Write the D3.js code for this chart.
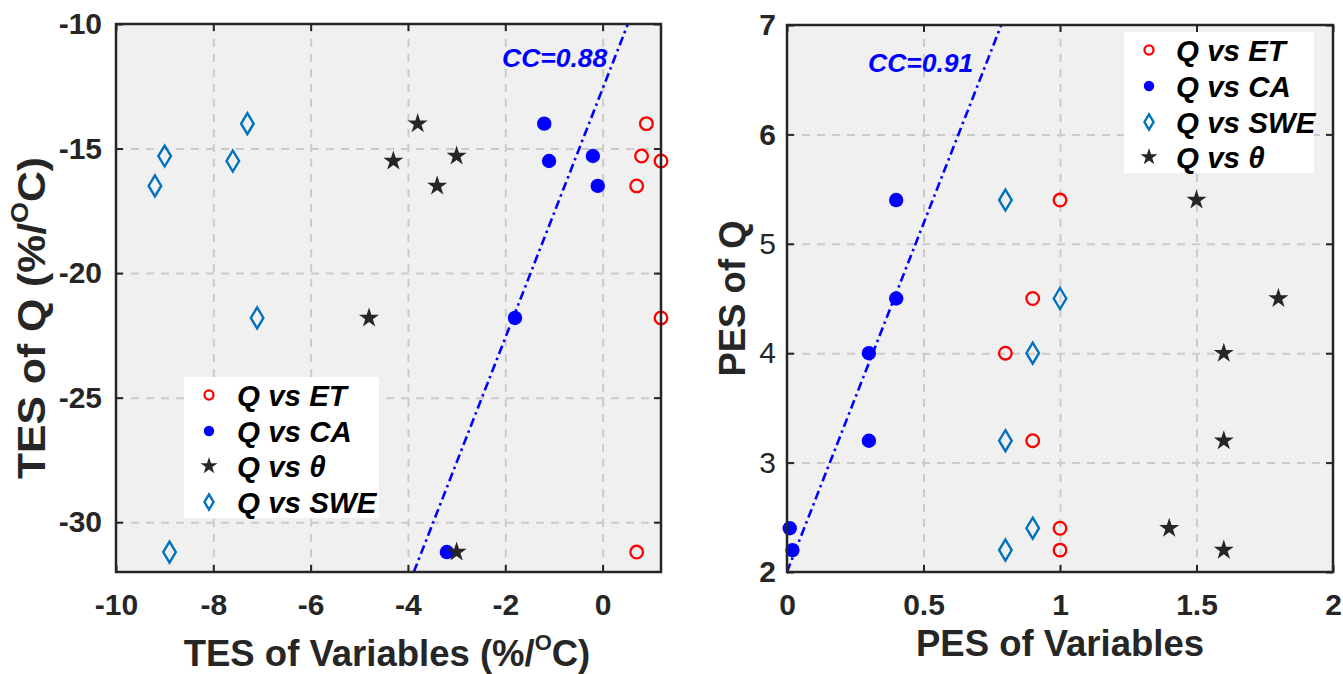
<!DOCTYPE html>
<html><head><meta charset="utf-8">
<script src="https://cdn.jsdelivr.net/npm/d3@7"></script>
<style>body{margin:0;background:#fff} svg{display:block}</style>
</head><body>
<svg id="c" width="1343" height="674"></svg>
<script>
// ---------------- data ----------------
const leftQ      = [-14.0, -15.3, -15.5, -16.5, -21.8, -31.2];
const leftET     = [0.9, 0.8, 1.2, 0.7, 1.2, 0.7];
const leftCA     = [-1.2, -0.2, -1.1, -0.1, -1.8, -3.2];
const leftTheta  = [-3.8, -3.0, -4.3, -3.4, -4.8, -3.0];
const leftSWE    = [-7.3, -9.0, -7.6, -9.2, -7.1, -8.9];
const leftFit    = [[-3.88, -32], [0.52, -10]];
const leftXTicks = [-10, -8, -6, -4, -2, 0];
const leftYTicks = [-30, -25, -20, -15, -10];
const leftCC     = "CC=0.88";

const rightQ      = [5.4, 4.5, 4.0, 3.2, 2.4, 2.2];
const rightET     = [1.0, 0.9, 0.8, 0.9, 1.0, 1.0];
const rightCA     = [0.4, 0.4, 0.3, 0.3, 0.01, 0.02];
const rightSWE    = [0.8, 1.0, 0.9, 0.8, 0.9, 0.8];
const rightTheta  = [1.5, 1.8, 1.6, 1.6, 1.4, 1.6];
const rightFit    = [[0, 2.0], [0.785, 7]];
const rightXTicks = [0, 0.5, 1, 1.5, 2];
const rightYTicks = [2, 3, 4, 5, 6, 7];
const rightCC     = "CC=0.91";

// ---------------- styles ----------------
const FONT = "'Liberation Sans', Arial, Helvetica, sans-serif";
const AX = "#262626";
const COL = {ET: "#ff0000", CA: "#0000ff", theta: "#262626", SWE: "#0072BD"};

const svg = d3.select("#c");

function marker(g, type, cx, cy, s) {
  if (type === "ET") {
    g.append("circle").attr("cx", cx).attr("cy", cy).attr("r", 6.3 * s)
      .attr("fill", "none").attr("stroke", COL.ET).attr("stroke-width", 2.3);
  } else if (type === "CA") {
    g.append("circle").attr("cx", cx).attr("cy", cy).attr("r", 7.2 * s)
      .attr("fill", COL.CA);
  } else if (type === "theta") {
    const ss = s < 1 ? 0.85 : 1;
    g.append("path").attr("d", d3.symbol(d3.symbolStar, 125 * ss * ss)())
      .attr("transform", `translate(${cx},${cy})`).attr("fill", COL.theta);
  } else if (type === "SWE") {
    const w = 6.3 * s, h = 10.5 * s;
    g.append("path").attr("d", `M${cx},${cy - h}L${cx + w},${cy}L${cx},${cy + h}L${cx - w},${cy}Z`)
      .attr("fill", "none").attr("stroke", COL.SWE).attr("stroke-width", 2.4);
  }
}

function panel(cfg) {
  const {x0, x1, y0, y1} = cfg;
  const x = d3.scaleLinear().domain(cfg.xd).range([x0, x1]);
  const y = d3.scaleLinear().domain(cfg.yd).range([y1, y0]);
  const g = svg.append("g");
  g.append("rect").attr("x", x0).attr("y", y0).attr("width", x1 - x0).attr("height", y1 - y0)
    .attr("fill", "#f0f0f0");

  // grid
  const xg = g.append("g").attr("transform", `translate(0,${y1})`)
    .call(d3.axisBottom(x).tickValues(cfg.xt.filter(v => v !== cfg.xd[0] && v !== cfg.xd[1]))
      .tickSize(-(y1 - y0)).tickFormat(""));
  const yg = g.append("g").attr("transform", `translate(${x0},0)`)
    .call(d3.axisLeft(y).tickValues(cfg.yt.filter(v => v !== cfg.yd[0] && v !== cfg.yd[1]))
      .tickSize(-(x1 - x0)).tickFormat(""));
  [xg, yg].forEach(a => {
    a.select(".domain").remove();
    a.selectAll("line").attr("stroke", "#cbcbcb").attr("stroke-width", 2)
      .attr("stroke-dasharray", "8,7");
  });

  // clip
  const cid = "clip" + cfg.id;
  svg.append("clipPath").attr("id", cid).append("rect")
    .attr("x", x0).attr("y", y0).attr("width", x1 - x0).attr("height", y1 - y0);

  // fit line
  g.append("path").attr("clip-path", `url(#${cid})`)
    .attr("d", d3.line().x(d => x(d[0])).y(d => y(d[1]))(cfg.fit))
    .attr("fill", "none").attr("stroke", "#0000ff").attr("stroke-width", 2.6)
    .attr("stroke-dasharray", "9,4,2.5,4");

  // points
  cfg.series.forEach(sr => {
    sr.xs.forEach((v, i) => marker(g, sr.type, x(v), y(cfg.q[i]), 1));
  });

  // axes with inward ticks
  const axB = g.append("g").attr("transform", `translate(0,${y1})`)
    .call(d3.axisBottom(x).tickValues(cfg.xt).tickSizeInner(-7).tickSizeOuter(0)
      .tickPadding(22).tickFormat(d => String(d)));
  const axL = g.append("g").attr("transform", `translate(${x0},0)`)
    .call(d3.axisLeft(y).tickValues(cfg.yt).tickSizeInner(-7).tickSizeOuter(0)
      .tickPadding(cfg.ylPad).tickFormat(d => String(d)));
  const axT = g.append("g").attr("transform", `translate(0,${y0})`)
    .call(d3.axisTop(x).tickValues(cfg.xt).tickSizeInner(-7).tickSizeOuter(0).tickFormat(""));
  const axR = g.append("g").attr("transform", `translate(${x1},0)`)
    .call(d3.axisRight(y).tickValues(cfg.yt).tickSizeInner(-7).tickSizeOuter(0).tickFormat(""));
  [axB, axL, axT, axR].forEach(a => {
    a.select(".domain").remove();
    a.selectAll("line").attr("stroke", AX).attr("stroke-width", 2);
    a.selectAll("text").attr("fill", AX).attr("font-family", FONT)
      .attr("font-size", 30).attr("font-weight", "bold");
  });
  if (cfg.yWeight) axL.selectAll("text").attr("font-weight", d => cfg.yWeight(d));

  g.append("rect").attr("x", x0).attr("y", y0).attr("width", x1 - x0).attr("height", y1 - y0)
    .attr("fill", "none").attr("stroke", AX).attr("stroke-width", 2.5);

  // CC text
  g.append("text").attr("x", cfg.cc[0]).attr("y", cfg.cc[1]).text(cfg.ccText)
    .attr("font-family", FONT).attr("font-size", 26.5).attr("font-weight", "bold")
    .attr("font-style", "italic").attr("fill", "#0000ff");

  // legend
  const L = cfg.legend;
  const lg = g.append("g");
  lg.append("rect").attr("x", L.x).attr("y", L.y).attr("width", L.w).attr("height", L.h)
    .attr("fill", "#ffffff");
  cfg.series.forEach((sr, i) => {
    const ey = L.rows[i];
    marker(lg, sr.type, L.mx, ey, 0.72);
    lg.append("text").attr("x", L.tx).attr("y", ey + 10.5)
      .attr("font-family", FONT).attr("font-size", 29.5).attr("font-weight", "bold")
      .attr("font-style", "italic").attr("fill", "#000").text(sr.label);
  });

  // axis titles
  const xt = g.append("text").attr("x", cfg.xTitle.x).attr("y", cfg.xTitle.y)
    .attr("text-anchor", "middle").attr("font-family", FONT).attr("font-size", 36.5)
    .attr("font-weight", "bold").attr("fill", AX);
  cfg.xTitle.parts(xt);
  const yt = g.append("text").attr("transform", `translate(${cfg.yTitle.x},${cfg.yTitle.y}) rotate(-90)`)
    .attr("text-anchor", "middle").attr("font-family", FONT)
    .attr("font-size", cfg.yTitle.fs || 36.5)
    .attr("font-weight", "bold").attr("fill", AX);
  if (cfg.yTitle.len) yt.attr("textLength", cfg.yTitle.len).attr("lengthAdjust", "spacingAndGlyphs");
  cfg.yTitle.parts(yt);
  return {x, y};
}

function degreeTitle(prefix, sup, shift) {
  return t => {
    t.append("tspan").text(prefix + " (%/");
    t.append("tspan").attr("dy", -shift).attr("font-size", sup).text("O");
    t.append("tspan").attr("dy", shift).text("C)");
  };
}

panel({
  id: "L", x0: 116, x1: 661, y0: 24, y1: 572,
  xd: [-10, 1.2], yd: [-32, -10], xt: leftXTicks, yt: leftYTicks, ylPad: 14,
  q: leftQ, fit: leftFit, cc: [502, 67], ccText: leftCC,
  series: [
    {type: "ET", xs: leftET, label: "Q vs ET"},
    {type: "CA", xs: leftCA, label: "Q vs CA"},
    {type: "theta", xs: leftTheta, label: "Q vs \u03B8"},
    {type: "SWE", xs: leftSWE, label: "Q vs SWE"}
  ],
  legend: {x: 184, y: 377, w: 195, h: 141, mx: 209, tx: 237, rows: [395, 431, 466, 502]},
  xTitle: {x: 387, y: 666, parts: degreeTitle("TES of Variables", 22, 16)},
  yTitle: {x: 45, y: 318, fs: 38, len: 322, parts: degreeTitle("TES of Q", 24, 17)}
});

panel({
  id: "R", x0: 787, x1: 1333, y0: 25, y1: 572,
  xd: [0, 2], yd: [2, 7], xt: rightXTicks, yt: rightYTicks, ylPad: 11,
  yWeight: d => (d === 7 || d === 6 || d === 2) ? "bold" : "normal",
  q: rightQ, fit: rightFit, cc: [868, 72], ccText: rightCC,
  series: [
    {type: "ET", xs: rightET, label: "Q vs ET"},
    {type: "CA", xs: rightCA, label: "Q vs CA"},
    {type: "SWE", xs: rightSWE, label: "Q vs SWE"},
    {type: "theta", xs: rightTheta, label: "Q vs \u03B8"}
  ],
  legend: {x: 1124, y: 32, w: 190, h: 141, mx: 1149, tx: 1176, rows: [50, 86, 122, 157]},
  xTitle: {x: 1060, y: 656, parts: t => t.text("PES of Variables")},
  yTitle: {x: 745, y: 298.5, parts: t => t.text("PES of Q")}
});
</script>
</body></html>
